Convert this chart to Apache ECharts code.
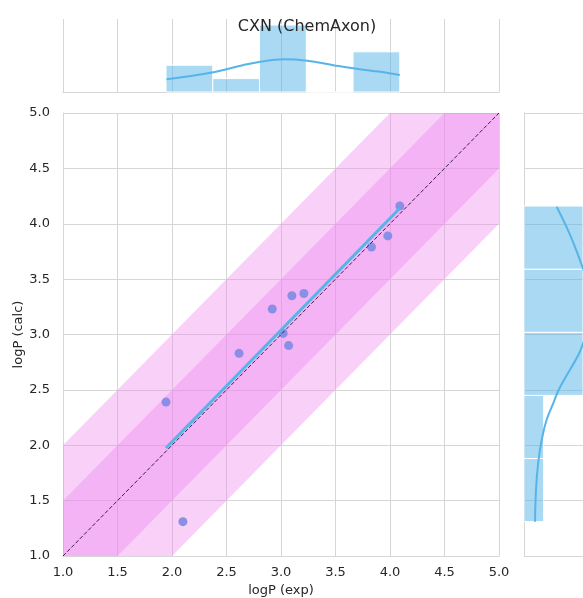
<!DOCTYPE html>
<html>
<head>
<meta charset="utf-8">
<script src="https://cdn.jsdelivr.net/npm/echarts@6/dist/echarts.min.js"></script>
<style>
  html, body { margin: 0; padding: 0; background: #fff; }
  #chart { width: 583px; height: 598px; }
</style>
</head>
<body>
<div id="chart"></div>
<script>
// measured vs calculated logP
var logpExp  = [1.945, 2.10, 2.615, 2.92, 3.02, 3.07, 3.10, 3.21, 3.83, 3.98, 4.09];
var logpCalc = [2.39, 1.31, 2.83, 3.23, 3.01, 2.90, 3.35, 3.37, 3.79, 3.89, 4.16];

// regression line end points
var regLine = [[1.945, 1.975], [4.09, 4.14]];
// identity line and error bands (+/- offset)
var diagLine = [[1, 1], [5, 5]];
var bandOffsets = [1.0, 0.5];

// top histogram (logP exp)
var topBinEdges = [1.945, 2.374, 2.803, 3.232, 3.661, 4.09];
var topCounts = [2, 1, 5, 0, 3];
var topKde = [[1.95, 0.95], [2.38, 1.47], [2.65, 2.0], [2.81, 2.26], [3.02, 2.44],
              [3.24, 2.34], [3.48, 2.0], [3.72, 1.69], [3.97, 1.44], [4.09, 1.27]];

// right histogram (logP calc)
var rightBinEdges = [1.31, 1.88, 2.45, 3.02, 3.59, 4.16];
var rightCounts = [1, 1, 3, 3, 3];
var rightKde = [[0.56, 1.31], [0.61, 1.60], [0.72, 1.84], [0.90, 2.05], [1.15, 2.23],
                [1.49, 2.38], [1.79, 2.51], [2.76, 2.815], [3.0, 2.92], [3.25, 3.05],
                [3.35, 3.25], [3.25, 3.45], [2.95, 3.62], [2.34, 3.90], [1.66, 4.154]];

var FONT = 'DejaVu Sans';
var TXT = '#262626';
var GRID = '#d6d6d6';
var BLUE = '#56B4E9';

function bandPolys() {
    var out = [];
    for (var i = 0; i < bandOffsets.length; i++) {
        var d = bandOffsets[i];
        out.push([[1, 1], [1 + d, 1], [5, 5 - d], [5, 5], [5 - d, 5], [1, 1 + d]]);
    }
    return out;
}

// [start, end, count] per bin
var histBars = function (edges, counts) {
    var data = [];
    for (var i = 0; i < counts.length; i++) {
        data.push([edges[i], edges[i + 1], counts[i]]);
    }
    return data;
};

var chart = echarts.init(document.getElementById('chart'), null, { renderer: 'canvas' });

var option = {
    animation: false,
    backgroundColor: '#fff',
    title: {
        text: 'CXN (ChemAxon)',
        left: 302,
        top: 14,
        textAlign: 'center',
        textStyle: { fontFamily: FONT, fontSize: 16, fontWeight: 'normal', color: TXT }
    },
    grid: [
        { left: 63, top: 113, width: 436, height: 443, outerBoundsMode: 'none' },
        { left: 63, top: 19, width: 436, height: 73, outerBoundsMode: 'none' },
        { left: 524, top: 113, width: 62, height: 443, outerBoundsMode: 'none' }
    ],
    xAxis: [
        {
            gridIndex: 0, type: 'value', min: 1, max: 5, interval: 0.5,
            name: 'logP (exp)', nameLocation: 'middle', nameGap: 28, nameMoveOverlap: false,
            nameTextStyle: { fontFamily: FONT, fontSize: 13, color: TXT },
            axisLine: { show: true, onZero: false, lineStyle: { color: GRID } },
            axisTick: { show: false },
            axisLabel: { fontFamily: FONT, fontSize: 13, color: TXT, margin: 10,
                formatter: function (v) { return v.toFixed(1); } },
            splitLine: { show: true, lineStyle: { color: GRID } }
        },
        {
            gridIndex: 1, type: 'value', min: 1, max: 5, interval: 0.5,
            axisLine: { show: true, onZero: false, lineStyle: { color: GRID } },
            axisTick: { show: false },
            axisLabel: { show: false },
            splitLine: { show: true, lineStyle: { color: GRID } }
        },
        {
            gridIndex: 2, type: 'value', min: 0, max: 3.15,
            axisLine: { show: false },
            axisTick: { show: false },
            axisLabel: { show: false },
            splitLine: { show: false }
        }
    ],
    yAxis: [
        {
            gridIndex: 0, type: 'value', min: 1, max: 5, interval: 0.5,
            name: 'logP (calc)', nameLocation: 'middle', nameGap: 38, nameMoveOverlap: false,
            nameTextStyle: { fontFamily: FONT, fontSize: 13, color: TXT },
            axisLine: { show: true, onZero: false, lineStyle: { color: GRID } },
            axisTick: { show: false },
            axisLabel: { fontFamily: FONT, fontSize: 13, color: TXT, margin: 13,
                formatter: function (v) { return v.toFixed(1); } },
            splitLine: { show: true, lineStyle: { color: GRID } }
        },
        {
            gridIndex: 1, type: 'value', min: 0, max: 5.45,
            axisLine: { show: false },
            axisTick: { show: false },
            axisLabel: { show: false },
            splitLine: { show: false }
        },
        {
            gridIndex: 2, type: 'value', min: 1, max: 5, interval: 0.5,
            axisLine: { show: true, onZero: false, lineStyle: { color: GRID } },
            axisTick: { show: false },
            axisLabel: { show: false },
            splitLine: { show: true, lineStyle: { color: GRID } }
        }
    ],
    series: [
        {
            // +/- 1 and +/- 0.5 bands
            type: 'custom',
            xAxisIndex: 0, yAxisIndex: 0,
            clip: true,
            z: 1,
            data: [0, 1],
            renderItem: function (params, api) {
                var poly = bandPolys()[params.dataIndex];
                var pts = poly.map(function (p) { return api.coord(p); });
                return {
                    type: 'polygon',
                    shape: { points: pts },
                    style: { fill: 'rgba(236,134,236,0.39)' }
                };
            }
        },
        {
            type: 'scatter',
            xAxisIndex: 0, yAxisIndex: 0,
            symbolSize: 9,
            z: 3,
            itemStyle: { color: '#8a8fe6', opacity: 1 },
            data: logpExp.map(function (x, i) { return [x, logpCalc[i]]; })
        },
        {
            type: 'line',
            xAxisIndex: 0, yAxisIndex: 0,
            showSymbol: false,
            z: 4,
            lineStyle: { color: BLUE, width: 3 },
            data: regLine
        },
        {
            type: 'line',
            xAxisIndex: 0, yAxisIndex: 0,
            showSymbol: false,
            z: 5,
            lineStyle: { color: '#3a2040', width: 1, type: [4, 2] },
            data: diagLine
        },
        {
            // top histogram
            type: 'custom',
            xAxisIndex: 1, yAxisIndex: 1,
            z: 2,
            data: histBars(topBinEdges, topCounts),
            renderItem: function (params, api) {
                var p0 = api.coord([api.value(0), 0]);
                var p1 = api.coord([api.value(1), api.value(2)]);
                return {
                    type: 'rect',
                    shape: { x: p0[0], y: p1[1], width: p1[0] - p0[0], height: p0[1] - p1[1] },
                    style: { fill: 'rgba(86,180,233,0.5)', stroke: '#fff', lineWidth: 1 }
                };
            }
        },
        {
            type: 'line',
            xAxisIndex: 1, yAxisIndex: 1,
            showSymbol: false,
            smooth: 0.4,
            z: 3,
            lineStyle: { color: BLUE, width: 2 },
            data: topKde
        },
        {
            // right histogram
            type: 'custom',
            xAxisIndex: 2, yAxisIndex: 2,
            z: 2,
            data: histBars(rightBinEdges, rightCounts),
            renderItem: function (params, api) {
                var p0 = api.coord([0, api.value(0)]);
                var p1 = api.coord([api.value(2), api.value(1)]);
                return {
                    type: 'rect',
                    shape: { x: p0[0], y: p1[1], width: p1[0] - p0[0], height: p0[1] - p1[1] },
                    style: { fill: 'rgba(86,180,233,0.5)', stroke: '#fff', lineWidth: 1 }
                };
            }
        },
        {
            type: 'line',
            xAxisIndex: 2, yAxisIndex: 2,
            showSymbol: false,
            smooth: 0.4,
            z: 3,
            lineStyle: { color: BLUE, width: 2 },
            data: rightKde
        }
    ]
};

chart.setOption(option);
</script>
</body>
</html>
